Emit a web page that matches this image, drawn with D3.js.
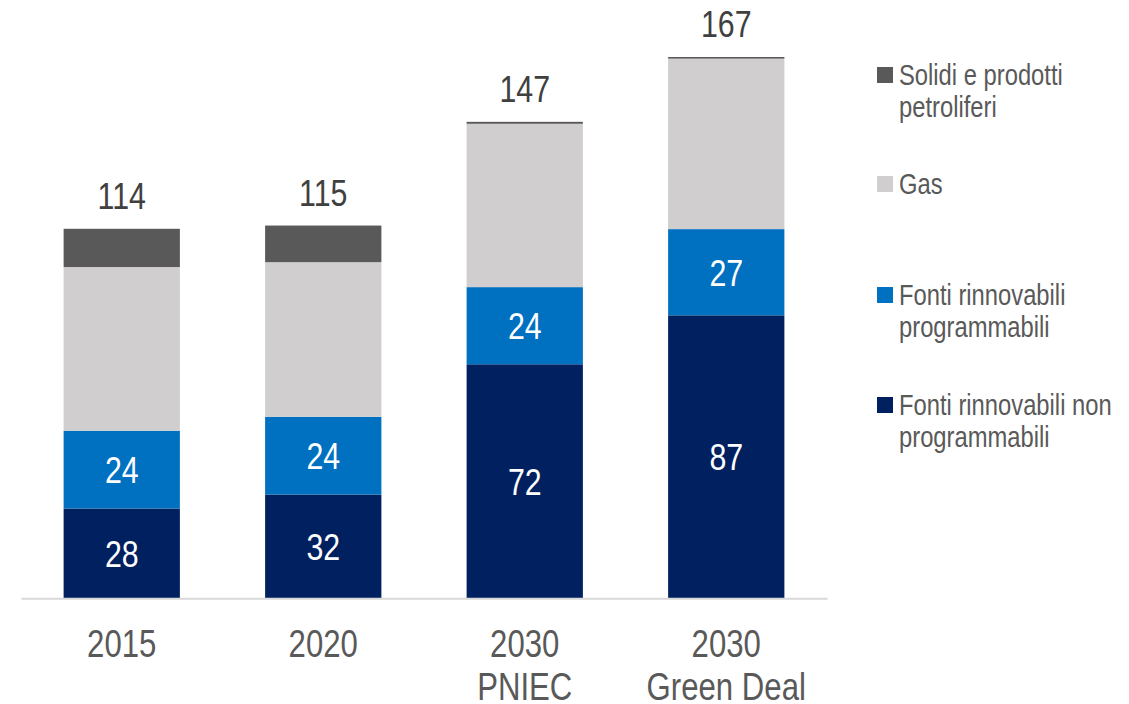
<!DOCTYPE html>
<html>
<head>
<meta charset="utf-8">
<script src="https://cdn.jsdelivr.net/npm/d3@7"></script>
<style>
  body { margin: 0; background: #fff; }
  svg text { font-family: "Liberation Sans", Arial, sans-serif; }
</style>
</head>
<body>
<div class="grafico"></div>
<script>
//size of the svg
var widthSVG = 1129;
var heightSVG = 704;
//no narrow font installed, so the text is squeezed horizontally
var stretto = 0.82;

//categories (x axis) and their label lines
var categorie = ["2015", "2020", "2030 PNIEC", "2030 Green Deal"];
var etichette = [["2015"], ["2020"], ["2030", "PNIEC"], ["2030", "Green Deal"]];

//series values, bottom to top
var nonProgrammabili = [27.7, 32.0, 72.2, 87.3];
var programmabili = [24.0, 24.0, 23.8, 26.6];
var gas = [50.5, 47.7, 50.4, 52.6];
var solidi = [11.8, 11.3, 0.6, 0.5];

//legend names (top to bottom) and colours
var serie = ["solidi", "gas", "programmabili", "nonProgrammabili"];
var nomi = [["Solidi e prodotti", "petroliferi"], ["Gas"], ["Fonti rinnovabili", "programmabili"], ["Fonti rinnovabili non", "programmabili"]];
var cor = { solidi: "#595959", gas: "#D0CECE", programmabili: "#0070C0", nonProgrammabili: "#002060" };

//building the table d3.stack wants
var dataset = categorie.map(function(c, i) {
	return {
		cat: c,
		nonProgrammabili: nonProgrammabili[i],
		programmabili: programmabili[i],
		gas: gas[i],
		solidi: solidi[i]
	};
});

var chiavi = ["nonProgrammabili", "programmabili", "gas", "solidi"];
var strati = d3.stack().keys(chiavi)(dataset);
var totale = function(d) { return d3.sum(chiavi, function(k) { return d[k]; }); };

//scales
var xScale = d3.scaleBand()
	.domain(categorie)
	.range([21, 827])
	.paddingInner(0.423)
	.paddingOuter(0.2115);

var yScale = d3.scaleLinear()
	.domain([0, 167])
	.range([598.3, 57]);

var centro = function(c) { return xScale(c) + xScale.bandwidth() / 2; };
//places a text at x,y and squeezes it
var posiziona = function(x, y) { return "translate(" + x + "," + y + ") scale(" + stretto + ",1)"; };

var svg = d3.select(".grafico")
	.append("svg")
	.attr("width", widthSVG)
	.attr("height", heightSVG);

//stacked bars
var gruppi = svg.selectAll(".strato")
	.data(strati)
	.enter()
	.append("g")
	.attr("class", "strato")
	.attr("fill", function(d) { return cor[d.key]; });

gruppi.selectAll("rect")
	.data(function(d) { return d; })
	.enter()
	.append("rect")
	.attr("x", function(d) { return xScale(d.data.cat); })
	.attr("y", function(d) { return yScale(d[1]); })
	.attr("width", xScale.bandwidth())
	.attr("height", function(d) { return yScale(d[0]) - yScale(d[1]); });

//white labels inside the renewable segments only
strati.filter(function(s) { return s.key == "nonProgrammabili" || s.key == "programmabili"; })
	.forEach(function(s) {
		svg.append("g").selectAll("text")
			.data(s)
			.enter()
			.append("text")
			.attr("transform", function(d) { return posiziona(centro(d.data.cat), (yScale(d[0]) + yScale(d[1])) / 2); })
			.attr("dy", "0.36em")
			.attr("text-anchor", "middle")
			.attr("fill", "#fff")
			.style("font-size", "37px")
			.text(function(d) { return d3.format(".0f")(d[1] - d[0]); });
	});

//totals above the bars
svg.append("g").selectAll("text")
	.data(dataset)
	.enter()
	.append("text")
	.attr("transform", function(d) { return posiziona(centro(d.cat), yScale(totale(d)) - 20); })
	.attr("text-anchor", "middle")
	.attr("fill", "#404040")
	.style("font-size", "37px")
	.text(function(d) { return d3.format(".0f")(totale(d)); });

//x axis: only the baseline, no ticks
var x_axis = d3.axisBottom(xScale).tickSize(0).tickFormat("");
var asse = svg.append("g")
	.attr("class", "coord x")
	.attr("transform", "translate(0," + yScale(0) + ")")
	.call(x_axis);
asse.select(".domain").attr("stroke", "#D9D9D9").attr("stroke-width", 2);

//category labels, one or two lines
var cats = svg.append("g").selectAll("text")
	.data(categorie)
	.enter()
	.append("text")
	.attr("transform", function(d) { return posiziona(centro(d), 657); })
	.attr("text-anchor", "middle")
	.attr("fill", "#595959")
	.style("font-size", "38px");

cats.selectAll("tspan")
	.data(function(d, i) { return etichette[i]; })
	.enter()
	.append("tspan")
	.attr("x", 0)
	.attr("dy", function(d, i) { return i == 0 ? 0 : 43; })
	.text(function(d) { return d; });

//legend
var posLegenda = [75, 184, 295, 405];
var legenda = svg.append("g").selectAll(".legendas")
	.data(serie)
	.enter()
	.append("g")
	.attr("class", "legendas")
	.attr("transform", function(d, i) { return "translate(877," + posLegenda[i] + ")"; });

legenda.append("rect")
	.attr("y", -8)
	.attr("width", 16)
	.attr("height", 16)
	.attr("fill", function(d) { return cor[d]; });

var testi = legenda.append("text")
	.attr("transform", posiziona(22, 0))
	.attr("fill", "#595959")
	.style("font-size", "29px");

testi.selectAll("tspan")
	.data(function(d, i) { return nomi[i]; })
	.enter()
	.append("tspan")
	.attr("x", 0)
	.attr("dy", function(d, i) { return i == 0 ? "0.36em" : 32; })
	.text(function(d) { return d; });
</script>
</body>
</html>
